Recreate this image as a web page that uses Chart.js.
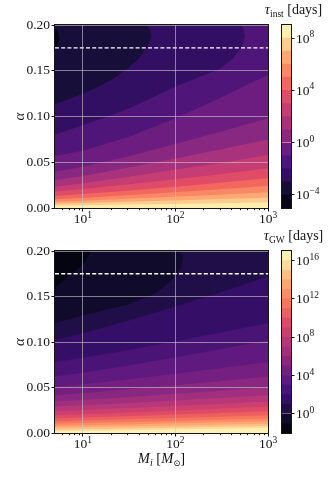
<!DOCTYPE html>
<html>
<head>
<meta charset="utf-8">
<title>tau_inst and tau_GW contours</title>
<script src="https://cdn.jsdelivr.net/npm/chart.js@4.4.1/dist/chart.umd.min.js"></script>
<style>
  html, body { margin: 0; padding: 0; background: #fff; }
  #fig { position: relative; width: 336px; height: 480px; overflow: hidden; }
  #fig canvas { position: absolute; }
</style>
</head>
<body>
<div id="fig">
  <canvas id="instMain" width="290" height="226" style="left:0;top:0"></canvas>
  <canvas id="instBar" width="80" height="226" style="left:256px;top:0"></canvas>
  <canvas id="gwMain" width="290" height="254" style="left:0;top:226px"></canvas>
  <canvas id="gwBar" width="80" height="254" style="left:256px;top:226px"></canvas>
</div>
<script>
// axes
const MASS_RANGE = [5, 1000];
const ALPHA_RANGE = [0, 0.2];
const MASS_TICKS = [10, 100, 1000];
const MASS_MINOR = [6, 7, 8, 9, 20, 30, 40, 50, 60, 70, 80, 90, 200, 300, 400, 500, 600, 700, 800, 900];
const ALPHA_STEP = 0.05;
const ALPHA_CRIT = 0.175;

// tau_inst: contour levels (log10 days) and the level curves as [M, alpha]
const INST_LEVELS = [-5, -4, -3, -2, -1, 0, 1, 2, 3, 4, 5, 6, 7, 8, 9];
const INST_CBAR_TICKS = [-4, 0, 4, 8];
const INST_CURVES = [
  [[5, .1755], [5.25, .177], [5.45, .181], [5.55, .186], [5.45, .191], [5.25, .1945], [5, .196]],
  [[5, .113], [7, .119], [10, .125], [15, .133], [22, .142], [30, .152], [40, .163], [50, .177], [55, .187], [53, .195], [49, .2]],
  [[5, .080], [10, .0907], [20, .101], [35, .111], [60, .122], [100, .1326], [184, .1435], [300, .152], [422, .1636], [520, .176], [564, .187], [545, .196], [520, .2]],
  [[5, .057], [10, .0625], [30, .077], [100, .098], [300, .12], [600, .135], [1000, .145]],
  [[5, .040], [10, .045], [30, .056], [100, .070], [300, .083], [1000, .098]],
  [[5, .0306], [10, .035], [30, .044], [100, .054], [300, .064], [1000, .075]],
  [[5, .0233], [10, .027], [30, .034], [100, .042], [300, .049], [1000, .058]],
  [[5, .0179], [10, .0207], [30, .0256], [100, .0314], [300, .037], [1000, .0434]],
  [[5, .0131], [10, .0152], [30, .0189], [100, .0233], [300, .0276], [1000, .0324]],
  [[5, .0095], [10, .011], [30, .0138], [100, .0172], [300, .0204], [1000, .024]],
  [[5, .0069], [10, .008], [30, .0100], [100, .0123], [300, .0146], [1000, .0171]],
  [[5, .0047], [10, .0054], [30, .0067], [100, .0082], [300, .0097], [1000, .0113]],
  [[5, .0026], [10, .003], [30, .0037], [100, .0045], [300, .0053], [1000, .0062]]
];

// tau_GW
const GW_LEVELS = [-2, -1, 0, 1, 2, 3, 4, 5, 6, 7, 8, 9, 10, 11, 12, 13, 14, 15, 16, 17];
const GW_CBAR_TICKS = [0, 4, 8, 12, 16];
const GW_CURVES = [
  [[5, .16], [7, .172], [9, .181], [10.5, .188], [11.6, .196], [11.9, .2]],
  [[5, .121], [10, .129], [30, .141], [60, .153], [90, .167], [115, .182], [121, .193], [112, .2]],
  [[5, .102], [10, .1097], [30, .123], [100, .139], [300, .1545], [1000, .172]],
  [[5, .078], [10, .0827], [30, .0909], [100, .1008], [300, .1103], [1000, .121]],
  [[5, .062], [10, .0664], [30, .074], [100, .0832], [300, .092], [1000, .102]],
  [[5, .0505], [10, .0535], [30, .0588], [100, .0651], [300, .0711], [1000, .078]],
  [[5, .0415], [10, .0438], [30, .0477], [100, .0524], [300, .0569], [1000, .062]],
  [[5, .0345], [10, .0363], [30, .0393], [100, .0430], [300, .0465], [1000, .0505]],
  [[5, .029], [10, .0304], [30, .0328], [100, .0356], [300, .0384], [1000, .0415]],
  [[5, .024], [10, .0252], [30, .0272], [100, .0296], [300, .0319], [1000, .0345]],
  [[5, .0195], [10, .0205], [30, .0224], [100, .0245], [300, .0266], [1000, .029]],
  [[5, .016], [10, .0169], [30, .0184], [100, .0202], [300, .022], [1000, .024]],
  [[5, .013], [10, .0137], [30, .015], [100, .0164], [300, .0179], [1000, .0195]],
  [[5, .0103], [10, .0109], [30, .012], [100, .0133], [300, .0146], [1000, .016]],
  [[5, .0078], [10, .0084], [30, .0094], [100, .0106], [300, .0117], [1000, .013]],
  [[5, .0057], [10, .0062], [30, .0071], [100, .0081], [300, .0092], [1000, .0103]],
  [[5, .0037], [10, .0042], [30, .0049], [100, .0059], [300, .0068], [1000, .0078]],
  [[5, .002], [10, .0024], [30, .0031], [100, .0040], [300, .0048], [1000, .0057]]
];

const SERIF = '"Liberation Serif", "DejaVu Serif", "DejaVu Sans", serif';
const INK = '#151515';
const GRID = 'rgba(200,200,200,0.62)';
const MAGMA = ['#000004', '#140e36', '#3b0f70', '#641a80', '#8c2981', '#b73779',
  '#de4968', '#f7705c', '#fe9f6d', '#fecf92', '#fcfdbf'];

function magma(t) {
  const s = Math.min(Math.max(t, 0), 1) * (MAGMA.length - 1);
  const i = Math.min(Math.floor(s), MAGMA.length - 2), f = s - i;
  const c = k => parseInt(MAGMA[i].substr(1 + 2 * k, 2), 16) * (1 - f) +
                 parseInt(MAGMA[i + 1].substr(1 + 2 * k, 2), 16) * f;
  return `rgb(${Math.round(c(0))},${Math.round(c(1))},${Math.round(c(2))})`;
}

// polygons: a level curve plus the frame corners that close it around the high-tau side
const OUT = { x0: 4, x1: 1250, y0: -0.01, y1: 0.21 };
const CORNERS = [[OUT.x0, OUT.y1], [OUT.x1, OUT.y1], [OUT.x1, OUT.y0], [OUT.x0, OUT.y0]];

function perim([x, y]) {
  const lx = Math.log10(MASS_RANGE[0]), span = Math.log10(MASS_RANGE[1]) - lx;
  const fx = (Math.log10(x) - lx) / span;
  const fy = (y - ALPHA_RANGE[0]) / (ALPHA_RANGE[1] - ALPHA_RANGE[0]);
  if (y >= ALPHA_RANGE[1]) return fx;
  if (x >= MASS_RANGE[1]) return 2 - fy;
  if (y <= ALPHA_RANGE[0]) return 3 - fx;
  return 3 + fy;
}

function region(curve) {
  const tS = perim(curve[0]), tE = perim(curve[curve.length - 1]);
  const target = tS > tE ? tS : tS + 4;
  const pts = curve.slice();
  for (let k = Math.ceil(tE); k < target; k++) {
    if (k > tE) pts.push(CORNERS[k % 4]);
  }
  return pts.map(([x, y]) => ({ x, y }));
}

// text helpers
function font(size, italic) { return (italic ? 'italic ' : '') + size + 'px ' + SERIF; }
function drawRuns(ctx, runs, x, y, align) {
  const parts = runs.map(([t, size, italic, dy]) => {
    ctx.font = font(size, italic);
    return { t, size, italic, dy: dy || 0, w: ctx.measureText(t).width };
  });
  const w = parts.reduce((s, p) => s + p.w, 0);
  let cx = align === 'center' ? x - w / 2 : align === 'right' ? x - w : x;
  ctx.textAlign = 'left';
  ctx.textBaseline = 'alphabetic';
  parts.forEach(p => {
    ctx.font = font(p.size, p.italic);
    ctx.fillText(p.t, cx, y + p.dy);
    cx += p.w;
  });
}
function pow10(e) {
  const s = e < 0 ? '\u2212' + (-e) : String(e);
  return [['10', 13.5, false, 0], [s, 9.5, false, -5.5]];
}

const mainDecor = {
  id: 'mainDecor',
  afterDraw(chart, args, o) {
    const { ctx, chartArea: a, scales: { x } } = chart;
    ctx.save();
    ctx.strokeStyle = INK;
    ctx.lineWidth = 1;
    ctx.beginPath();
    MASS_MINOR.forEach(v => {
      const px = Math.round(x.getPixelForValue(v)) + 0.5;
      ctx.moveTo(px, a.bottom);
      ctx.lineTo(px, a.bottom + 2.2);
    });
    ctx.stroke();
    ctx.strokeRect(a.left - 0.5, a.top - 0.5, a.width + 1, a.height + 1);
    ctx.fillStyle = INK;
    MASS_TICKS.forEach(v => drawRuns(ctx, pow10(Math.round(Math.log10(v))),
      x.getPixelForValue(v), a.bottom + 15, 'center'));
    ctx.save();
    ctx.translate(20, (a.top + a.bottom) / 2);
    ctx.rotate(-Math.PI / 2);
    drawRuns(ctx, [['\u03b1', 15, true, 0]], 0, 3.5, 'center');
    ctx.restore();
    if (o.xTitle) {
      drawRuns(ctx, [['M', 14.5, true, 0], ['i', 10, true, 3], [' [', 14.5, false, 0],
        ['M', 14.5, true, 0], ['\u2299', 8.5, false, 3], [']', 14.5, false, 0]],
        (a.left + a.right) / 2, a.bottom + 30, 'center');
    }
    ctx.restore();
  }
};

const barDecor = {
  id: 'barDecor',
  afterDraw(chart, args, o) {
    const { ctx, chartArea: a, scales: { y } } = chart;
    ctx.save();
    ctx.strokeStyle = INK;
    ctx.lineWidth = 1;
    ctx.strokeRect(a.left - 0.5, a.top - 0.5, a.width + 1, a.height + 1);
    ctx.fillStyle = INK;
    o.ticks.forEach(e => drawRuns(ctx, pow10(e), a.right + 5, y.getPixelForValue(e) + 4.5, 'left'));
    drawRuns(ctx, [['\u03c4', 14.5, true, 0], [o.sub, 9.5, false, 3], [' [days]', 14, false, 0]],
      (a.left + a.right) / 2 + 7, a.top - 11, 'center');
    ctx.restore();
  }
};

function makeMain(id, levels, curves, pad, xHeight, xTitle) {
  const n = levels.length - 1;
  const band = i => magma((i + 0.5) / n);
  const datasets = [{
    data: MASS_RANGE.map(x => ({ x, y: ALPHA_CRIT })),
    borderColor: '#ffffff', borderWidth: 1.3, borderDash: [4, 2.2],
    pointRadius: 0, fill: false
  }];
  for (let k = curves.length - 1; k >= 0; k--) {
    datasets.push({
      data: region(curves[k]), fill: 'shape', backgroundColor: band(k + 1),
      borderColor: 'rgba(0,0,0,0)', borderWidth: 0, pointRadius: 0, tension: 0
    });
  }
  datasets.push({
    data: CORNERS.map(([x, y]) => ({ x, y })), fill: 'shape', backgroundColor: band(0),
    borderColor: 'rgba(0,0,0,0)', borderWidth: 0, pointRadius: 0, tension: 0
  });

  return new Chart(document.getElementById(id), {
    type: 'line',
    data: { datasets },
    options: {
      responsive: false, animation: false, events: [],
      layout: { padding: pad },
      plugins: { legend: { display: false }, tooltip: { enabled: false }, mainDecor: { xTitle } },
      scales: {
        x: {
          type: 'logarithmic', min: MASS_RANGE[0], max: MASS_RANGE[1],
          afterBuildTicks: s => { s.ticks = MASS_TICKS.map(value => ({ value })); },
          afterFit: s => { s.height = xHeight; },
          ticks: { display: false },
          grid: { z: 1, color: GRID, lineWidth: 1, tickColor: INK, tickLength: 3.5, tickWidth: 1 },
          border: { display: false }
        },
        y: {
          type: 'linear', min: ALPHA_RANGE[0], max: ALPHA_RANGE[1],
          afterFit: s => { s.width = 55; },
          ticks: {
            stepSize: ALPHA_STEP, padding: 1.5, color: INK,
            font: { family: SERIF, size: 13.5 },
            callback: v => Number(v).toFixed(2)
          },
          grid: { z: 1, color: GRID, lineWidth: 1, tickColor: INK, tickLength: 3.5, tickWidth: 1 },
          border: { display: false }
        }
      }
    },
    plugins: [mainDecor]
  });
}

function makeBar(id, levels, ticks, sub, pad) {
  const n = levels.length - 1;
  const datasets = [];
  for (let i = 0; i < n; i++) {
    datasets.push({
      data: [[levels[i], levels[i + 1]]], backgroundColor: magma((i + 0.5) / n),
      borderWidth: 0, barPercentage: 1, categoryPercentage: 1, grouped: false
    });
  }
  return new Chart(document.getElementById(id), {
    type: 'bar',
    data: { labels: [''], datasets },
    options: {
      responsive: false, animation: false, events: [],
      layout: { padding: pad },
      plugins: { legend: { display: false }, tooltip: { enabled: false }, barDecor: { ticks, sub } },
      scales: {
        x: { display: false },
        y: {
          position: 'right', min: levels[0], max: levels[n],
          afterBuildTicks: s => { s.ticks = ticks.map(value => ({ value })); },
          afterFit: s => { s.width = 45; },
          ticks: { display: false },
          grid: { drawOnChartArea: false, tickColor: INK, tickLength: 3.5, tickWidth: 1 },
          border: { display: false }
        }
      }
    },
    plugins: [barDecor]
  });
}

makeMain('instMain', INST_LEVELS, INST_CURVES, { left: 0, top: 25, right: 22, bottom: 0 }, 18, false);
makeBar('instBar', INST_LEVELS, INST_CBAR_TICKS, 'inst', { left: 26, top: 25, right: 0, bottom: 18 });
makeMain('gwMain', GW_LEVELS, GW_CURVES, { left: 0, top: 25, right: 22, bottom: 0 }, 47, true);
makeBar('gwBar', GW_LEVELS, GW_CBAR_TICKS, 'GW', { left: 26, top: 25, right: 0, bottom: 47 });
</script>
</body>
</html>
